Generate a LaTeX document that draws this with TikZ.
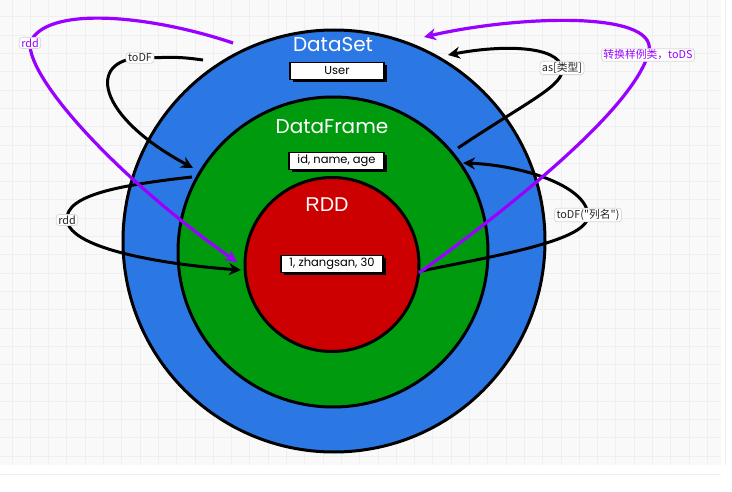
\documentclass[tikz,border=0pt]{standalone}
\usepackage{fontspec}
\setmainfont{Poppins}
\newfontfamily\arialf{Liberation Sans}
\newfontfamily\cjk{Noto Sans CJK SC}
\usetikzlibrary{arrows.meta,shadows}
\definecolor{dsblue}{HTML}{2B78E4}
\definecolor{dfgreen}{HTML}{009A0F}
\definecolor{rddred}{HTML}{CC0000}
\definecolor{vio}{HTML}{9900FF}
\definecolor{bggray}{HTML}{F9F9F9}
\definecolor{gridgray}{HTML}{EFEFEF}
\tikzset{
  ring/.style={circle, draw=black, line width=3pt, inner sep=0pt},
  title/.style={text=white, font=\fontsize{20}{22}\selectfont},
  databox/.style={draw=black, fill=white, line width=1.3pt, minimum height=17pt, inner sep=0pt,
    font=\fontsize{11.5}{13}\selectfont,
    drop shadow={shadow xshift=2.5pt, shadow yshift=-2.5pt, fill=black, opacity=1}},
  lbl/.style={fill=white, draw=black!15, line width=0.8pt, rounded corners=3pt, inner xsep=2pt, inner ysep=1.2pt,
    font=\cjk\fontsize{10.8}{12}\selectfont, text=black!85},
  blk/.style={draw=black, line width=3pt, -{Stealth[length=12pt,width=12pt]}},
  vl/.style={draw=vio, line width=3.2pt, -{Stealth[length=12pt,width=12pt]}},
}
\begin{document}
\begin{tikzpicture}[x=1pt,y=-1pt]
\useasboundingbox (0,0) rectangle (732,492);
\fill[white] (0,0) rectangle (732,492);
\fill[bggray] (0,0) rectangle (721,465);
\foreach \i in {0,...,39} {\draw[gridgray, line width=1pt] ({12+18.3*\i},0) -- ({12+18.3*\i},465);}
\foreach \j in {0,...,25} {\draw[gridgray, line width=1pt] (0,{17+18.3*\j}) -- (721,{17+18.3*\j});}
% rings
\node[ring, fill=dsblue, minimum size=422pt] (ds) at (334,241) {};
\node[ring, fill=dfgreen, minimum size=310pt] (df) at (333,252) {};
\node[ring, fill=rddred, minimum size=174pt] (rd) at (332,264.5) {};
% titles and boxes
\node[title] (tds) at (333,45) {DataSet};
\node[databox, minimum width=94pt] (bu) at (337,71) {User};
\node[title] (tdf) at (332,127) {DataFrame};
\node[databox, minimum width=95pt] (bid) at (336.5,161) {id, name, age};
\node[title, font=\arialf\fontsize{20}{22}\selectfont] (trd) at (327,205) {RDD};
\node[databox, minimum width=102pt] (bz) at (332,264) {1, zhangsan, 30};
% endpoints
\coordinate (a1) at (233,43);
\coordinate (a2) at (237,262);
\coordinate (b1) at (419,273);
\coordinate (b2) at (424,37);
\coordinate (c1) at (203,60);
\coordinate (c2) at (193,168);
\coordinate (d1) at (458,148);
\coordinate (d2) at (448,55);
\coordinate (e1) at (192,177);
\coordinate (e2) at (241,270);
\coordinate (f1) at (421,271);
\coordinate (f2) at (463,163);
% black connectors
\draw[blk] (c1) .. controls (180,57) .. (140,58) node[lbl] (lc) {toDF}
  .. controls (88,60) and (95,115) .. (c2);
\draw[blk] (d1) .. controls (530,100) and (565,85) .. (562,68) node[lbl] (ld) {as[类型]}
  .. controls (558,45) and (500,45) .. (d2);
\draw[blk] (e1) .. controls (120,185) and (65,195) .. (67,220) node[lbl] (le) {rdd}
  .. controls (70,250) and (170,265) .. (e2);
\draw[blk] (f1) .. controls (500,255) and (590,240) .. (588,215) node[lbl] (lf) {toDF("列名")}
  .. controls (586,185) and (520,165) .. (f2);
% purple connectors
\draw[vl] (a1) .. controls (150,15) and (45,5) .. (30,43) node[lbl, text=vio] (la) {rdd}
  .. controls (28,80) and (120,180) .. (a2);
\draw[vl] (b1) .. controls (520,200) and (630,110) .. (648,55) node[lbl, text=vio] (lb) {转换样例类，toDS}
  .. controls (665,10) and (520,15) .. (b2);
\end{tikzpicture}
\end{document}
